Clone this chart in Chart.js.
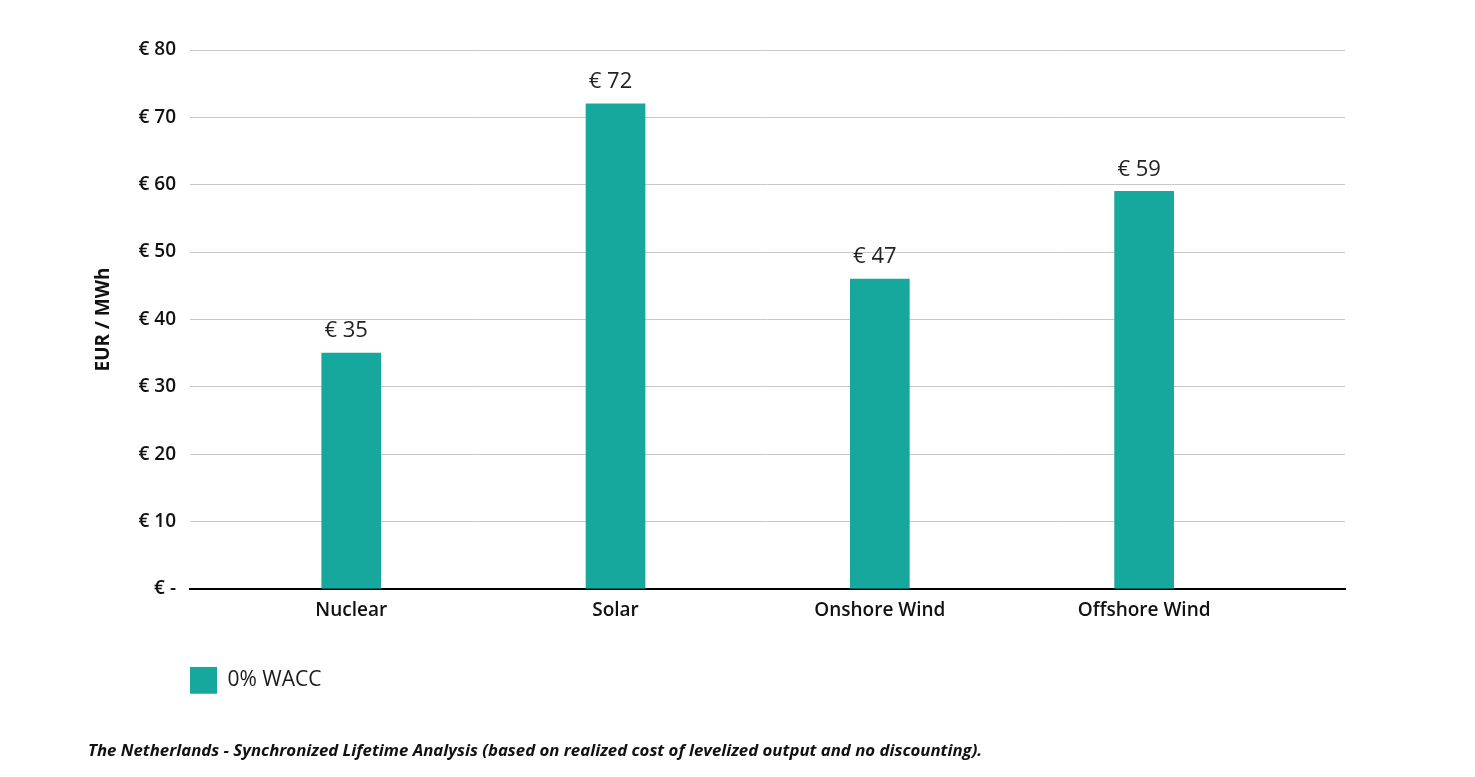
<!DOCTYPE html>
<html>
<head>
<meta charset="utf-8">
<script src="https://cdn.jsdelivr.net/npm/chart.js@4.4.1/dist/chart.umd.min.js"></script>
<style>
  html, body { margin: 0; padding: 0; background: #fff; }
  #wrap { width: 1475px; height: 777px; position: relative; }
</style>
</head>
<body>
<div id="wrap"><canvas id="myChart"></canvas></div>
<script>
const categories = ['Nuclear', 'Solar', 'Onshore Wind', 'Offshore Wind'];
const positions = [1, 2, 3, 4];
const values = [35, 72, 46, 59];
const valueLabels = ['€ 35', '€ 72', '€ 47', '€ 59'];
const yTicks = [0, 10, 20, 30, 40, 50, 60, 70, 80];
const seriesName = '0% WACC';
const caption = 'The Netherlands - Synchronized Lifetime Analysis (based on realized cost of levelized output and no discounting).';

const FONT = "'Open Sans', 'Noto Sans', sans-serif";
const barColor = '#16a89d';

// labels above the bars
const barLabels = {
    id: 'barLabels',
    afterDatasetsDraw(chart) {
        const ctx = chart.ctx;
        const meta = chart.getDatasetMeta(0);
        ctx.save();
        ctx.font = '400 22px ' + FONT;
        ctx.fillStyle = '#222';
        ctx.textAlign = 'center';
        ctx.textBaseline = 'middle';
        meta.data.forEach((bar, i) => {
            ctx.fillText(valueLabels[i], bar.x - 5, bar.y - 22);
        });
        ctx.restore();
    }
};

const ctx = document.getElementById('myChart').getContext('2d');

new Chart(ctx, {
    type: 'bar',
    data: {
        datasets: [{
            label: seriesName,
            data: positions.map((p, i) => ({ x: p, y: values[i] })),
            backgroundColor: barColor,
            borderWidth: 0,
            barThickness: 59
        }]
    },
    options: {
        responsive: true,
        maintainAspectRatio: false,
        animation: false,
        layout: {
            padding: { left: 88, right: 130, top: 50, bottom: 0 }
        },
        plugins: {
            legend: {
                position: 'bottom',
                align: 'start',
                fullSize: false,
                labels: {
                    boxWidth: 27,
                    boxHeight: 27,
                    padding: 0,
                    color: '#1a1a1a',
                    font: { family: FONT, size: 21, weight: '400' }
                }
            },
            title: {
                display: true,
                position: 'bottom',
                align: 'start',
                text: caption,
                color: '#111',
                padding: { top: 37, bottom: 16 },
                font: { family: FONT, size: 16.8, weight: '700', style: 'italic' }
            },
            tooltip: { enabled: false }
        },
        scales: {
            x: {
                type: 'linear',
                offset: false,
                min: 0.39,
                max: 4.76,
                afterBuildTicks(scale) {
                    scale.ticks = positions.map(v => ({ value: v }));
                },
                afterFit(scale) {
                    scale.height = 78;
                },
                ticks: {
                    padding: 10,
                    color: '#111',
                    font: { family: FONT, size: 19, weight: '600' },
                    callback: (v) => categories[positions.indexOf(v)] || ''
                },
                grid: { display: false, drawTicks: false },
                border: { display: true, color: '#000', width: 2 }
            },
            y: {
                min: 0,
                max: 80,
                afterBuildTicks(scale) {
                    scale.ticks = yTicks.map(v => ({ value: v }));
                },
                afterFit(scale) {
                    scale.width = 102;
                },
                ticks: {
                    padding: 14,
                    color: '#111',
                    font: { family: FONT, size: 19, weight: '600' },
                    callback: (v) => v === 0 ? '€ -' : '€ ' + v
                },
                grid: { color: '#c8c8c8', lineWidth: 1, drawTicks: false },
                border: { display: false },
                title: {
                    display: true,
                    text: 'EUR / MWh',
                    color: '#111',
                    font: { family: FONT, size: 19, weight: '700' },
                    padding: 4
                }
            }
        }
    },
    plugins: [barLabels]
});
</script>
</body>
</html>
